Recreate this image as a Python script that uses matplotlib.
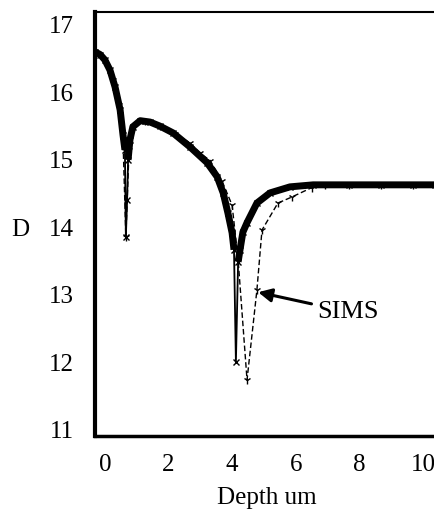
import numpy as np
from matplotlib import pyplot as plt
from matplotlib.transforms import ScaledTranslation

# model curve (thick band), depth in um
model_x = [0.0, 0.16, 0.31, 0.47, 0.63, 0.79, 0.88, 0.94, 0.97, 1.01, 1.04, 1.10,
           1.19, 1.42, 1.73, 2.04, 2.45, 2.99, 3.52, 3.84, 4.03, 4.18, 4.31, 4.37,
           4.43, 4.50, 4.56, 4.65, 4.78, 5.09, 5.50, 6.13, 6.86, 8.0, 9.0, 10.0, 10.7]
model_d = [16.60, 16.56, 16.48, 16.33, 16.08, 15.74, 15.37, 15.15, 13.86, 14.41, 15.00, 15.30,
           15.49, 15.58, 15.56, 15.50, 15.40, 15.19, 14.96, 14.75, 14.51, 14.21, 13.92, 13.67,
           12.01, 13.49, 13.67, 13.93, 14.07, 14.36, 14.51, 14.60, 14.63, 14.63, 14.63, 14.63, 14.63]

# SIMS (dashed)
sims_x = [0.0, 0.31, 0.57, 0.75, 0.88, 0.97, 1.07, 1.23, 1.57, 2.04, 2.52, 2.99, 3.30,
          3.62, 3.99, 4.31, 4.50, 4.78, 5.09, 5.25, 5.75, 6.19, 6.82, 7.23, 8.0, 9.0, 10.0, 10.7]
sims_d = [16.60, 16.45, 16.19, 15.81, 15.30, 13.86, 15.15, 15.50, 15.58, 15.50, 15.39, 15.25, 15.10,
          14.99, 14.69, 14.33, 13.52, 11.74, 13.07, 13.96, 14.36, 14.45, 14.59, 14.63, 14.63, 14.63, 14.63, 14.63]

xticks = [0, 2, 4, 6, 8, 10]
yticks = [11, 12, 13, 14, 15, 16, 17]

plt.rcParams['font.family'] = ['Liberation Serif', 'DejaVu Serif']

fig = plt.figure(figsize=(4.35, 5.12), dpi=100)
ax = fig.add_axes([0.2184, 0.1484, 0.7816, 0.8282])

# thick band leaves out the narrow dip bottoms
md = np.ma.masked_array(model_d)
md[[8, 9, 24]] = np.ma.masked
ax.plot(model_x, md, color='black', lw=5, solid_capstyle='butt')
ax.plot(model_x, model_d, color='black', lw=1.3, marker='x', ms=4, mew=1)
ax.plot(sims_x, sims_d, color='black', lw=1, ls='--', dashes=(4, 2), marker='1', ms=6, mew=1)

ax.annotate('SIMS', xy=(5.13, 13.04), xytext=(6.98, 12.75), fontsize=19,
            ha='left', va='center',
            arrowprops=dict(arrowstyle='-|>', lw=2.2, color='black',
                            mutation_scale=20, shrinkA=2, shrinkB=0))

ax.set_xlim(0, 10.69)
ax.set_ylim(10.91, 17.19)
ax.set_xticks(xticks)
ax.set_yticks(yticks)
ax.tick_params(length=0, labelsize=18)
ax.tick_params(axis='y', pad=15)
ax.tick_params(axis='x', pad=13)
for lab in ax.get_xticklabels():
    lab.set_transform(lab.get_transform() + ScaledTranslation(0.10, 0, fig.dpi_scale_trans))

ax.set_xlabel('Depth um', fontsize=18, va='center')
ax.xaxis.set_label_coords(0.506, -0.146)
ax.set_ylabel('D', fontsize=18, rotation=0, ha='center', va='center')
ax.yaxis.set_label_coords(-0.22, 0.486)

ax.spines['left'].set_linewidth(3)
ax.spines['bottom'].set_linewidth(2.5)
ax.spines['top'].set_linewidth(1.5)
ax.spines['right'].set_visible(False)

plt.savefig('out.png', dpi=100)
